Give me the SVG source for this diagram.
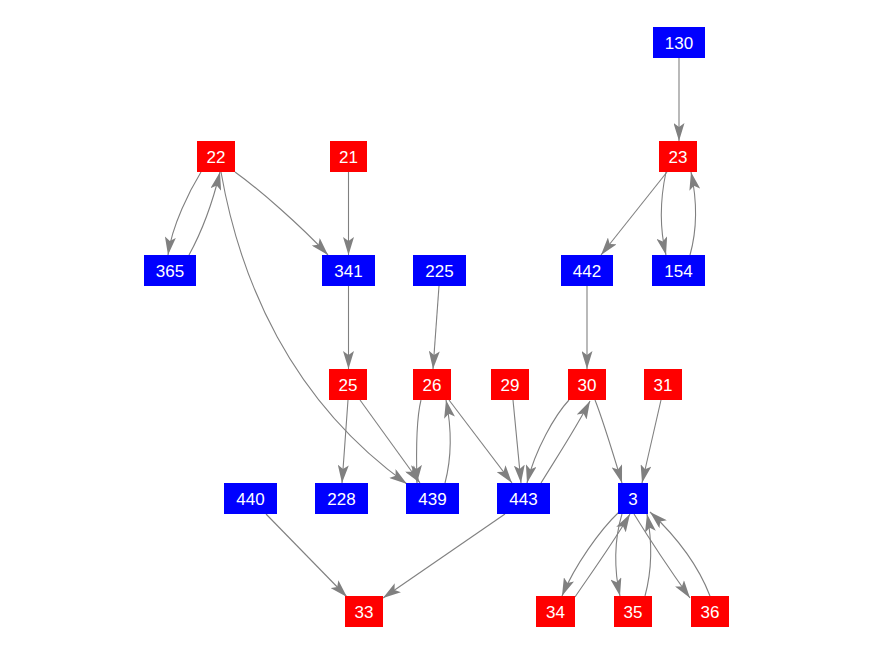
<svg xmlns="http://www.w3.org/2000/svg" width="876" height="656" viewBox="0 0 876 656">
<style>
.r{fill:#ff0000}
.b{fill:#0000ff}
text{font-family:"Liberation Sans",Arial,sans-serif;font-size:17px;fill:#ffffff;text-anchor:middle}
.e path{fill:none;stroke:#808080;stroke-width:1.1;marker-end:url(#ah)}
</style>
<defs>
<marker id="ah" viewBox="0 0 18 11" refX="18" refY="5.5" markerWidth="18" markerHeight="11" markerUnits="userSpaceOnUse" orient="auto">
<path d="M0,0 L18,5.5 L0,11 L4,5.5 z" fill="#808080"/>
</marker>
</defs>
<rect width="876" height="656" fill="#ffffff"/>
<g id="edges" class="e">
<path d="M679,58 L679,141"/>
<path d="M667,172 L601,255"/>
<path d="M666,172 C660,200 660,230 666,255"/>
<path d="M690,255 C697,230 697,200 691,172"/>
<path d="M201,172 C190,190 172,225 168,255"/>
<path d="M189,255 C200,235 212,205 220,172"/>
<path d="M235,172 C260,190 300,225 328,255"/>
<path d="M348.5,172 L348.5,255"/>
<path d="M221,172 C240,280 290,400 407,484"/>
<path d="M348.5,286 L348.5,369"/>
<path d="M439,286 L433,369"/>
<path d="M587,286 L587,369"/>
<path d="M348,400 C346,430 344,455 342,483"/>
<path d="M360,400 L420,483"/>
<path d="M421,400 C416,420 416,450 417,483"/>
<path d="M445,483 C451,460 452,430 446,400"/>
<path d="M449,400 L512,483"/>
<path d="M513,400 L521,483"/>
<path d="M569,400 C555,415 535,450 527,483"/>
<path d="M541,483 C555,460 575,430 590,401"/>
<path d="M595,400 C603,420 612,450 622,483"/>
<path d="M661,400 L642,483"/>
<path d="M266,514 L347,597"/>
<path d="M505,514 L383,598"/>
<path d="M619,512 C600,530 575,565 562,596"/>
<path d="M575,597 C590,575 615,540 630,514"/>
<path d="M622,514 C614,540 614,570 620,596"/>
<path d="M645,596 C652,570 652,540 647,514"/>
<path d="M634,514 C650,540 670,570 690,598"/>
<path d="M710,596 C700,570 680,540 650,512"/>
</g>
<g id="n130"><rect class="b" x="653" y="27" width="52" height="31"/><text x="679" y="48.5">130</text></g>
<g id="n23"><rect class="r" x="659" y="141" width="38" height="31"/><text x="678" y="162.5">23</text></g>
<g id="n22"><rect class="r" x="197" y="141" width="38" height="31"/><text x="216" y="162.5">22</text></g>
<g id="n21"><rect class="r" x="330" y="141" width="37" height="31"/><text x="348.5" y="162.5">21</text></g>
<g id="n365"><rect class="b" x="144" y="255" width="52" height="31"/><text x="170" y="276.5">365</text></g>
<g id="n341"><rect class="b" x="322" y="255" width="53" height="31"/><text x="348.5" y="276.5">341</text></g>
<g id="n225"><rect class="b" x="413" y="255" width="53" height="31"/><text x="439.5" y="276.5">225</text></g>
<g id="n442"><rect class="b" x="561" y="255" width="52" height="31"/><text x="587" y="276.5">442</text></g>
<g id="n154"><rect class="b" x="652" y="255" width="53" height="31"/><text x="678.5" y="276.5">154</text></g>
<g id="n25"><rect class="r" x="329" y="369" width="38" height="31"/><text x="348" y="390.5">25</text></g>
<g id="n26"><rect class="r" x="413" y="369" width="38" height="31"/><text x="432" y="390.5">26</text></g>
<g id="n29"><rect class="r" x="491" y="369" width="38" height="31"/><text x="510" y="390.5">29</text></g>
<g id="n30"><rect class="r" x="568" y="369" width="38" height="31"/><text x="587" y="390.5">30</text></g>
<g id="n31"><rect class="r" x="644" y="369" width="38" height="31"/><text x="663" y="390.5">31</text></g>
<g id="n440"><rect class="b" x="224" y="483" width="53" height="31"/><text x="250.5" y="504.5">440</text></g>
<g id="n228"><rect class="b" x="315" y="483" width="53" height="31"/><text x="341.5" y="504.5">228</text></g>
<g id="n439"><rect class="b" x="406" y="483" width="53" height="31"/><text x="432.5" y="504.5">439</text></g>
<g id="n443"><rect class="b" x="497" y="483" width="53" height="31"/><text x="523.5" y="504.5">443</text></g>
<g id="n3"><rect class="b" x="618" y="483" width="30" height="31"/><text x="633" y="504.5">3</text></g>
<g id="n33"><rect class="r" x="345" y="596" width="38" height="31"/><text x="364" y="617.5">33</text></g>
<g id="n34"><rect class="r" x="536" y="596" width="39" height="31"/><text x="555.5" y="617.5">34</text></g>
<g id="n35"><rect class="r" x="614" y="596" width="38" height="31"/><text x="633" y="617.5">35</text></g>
<g id="n36"><rect class="r" x="691" y="596" width="38" height="31"/><text x="710" y="617.5">36</text></g>
</svg>
